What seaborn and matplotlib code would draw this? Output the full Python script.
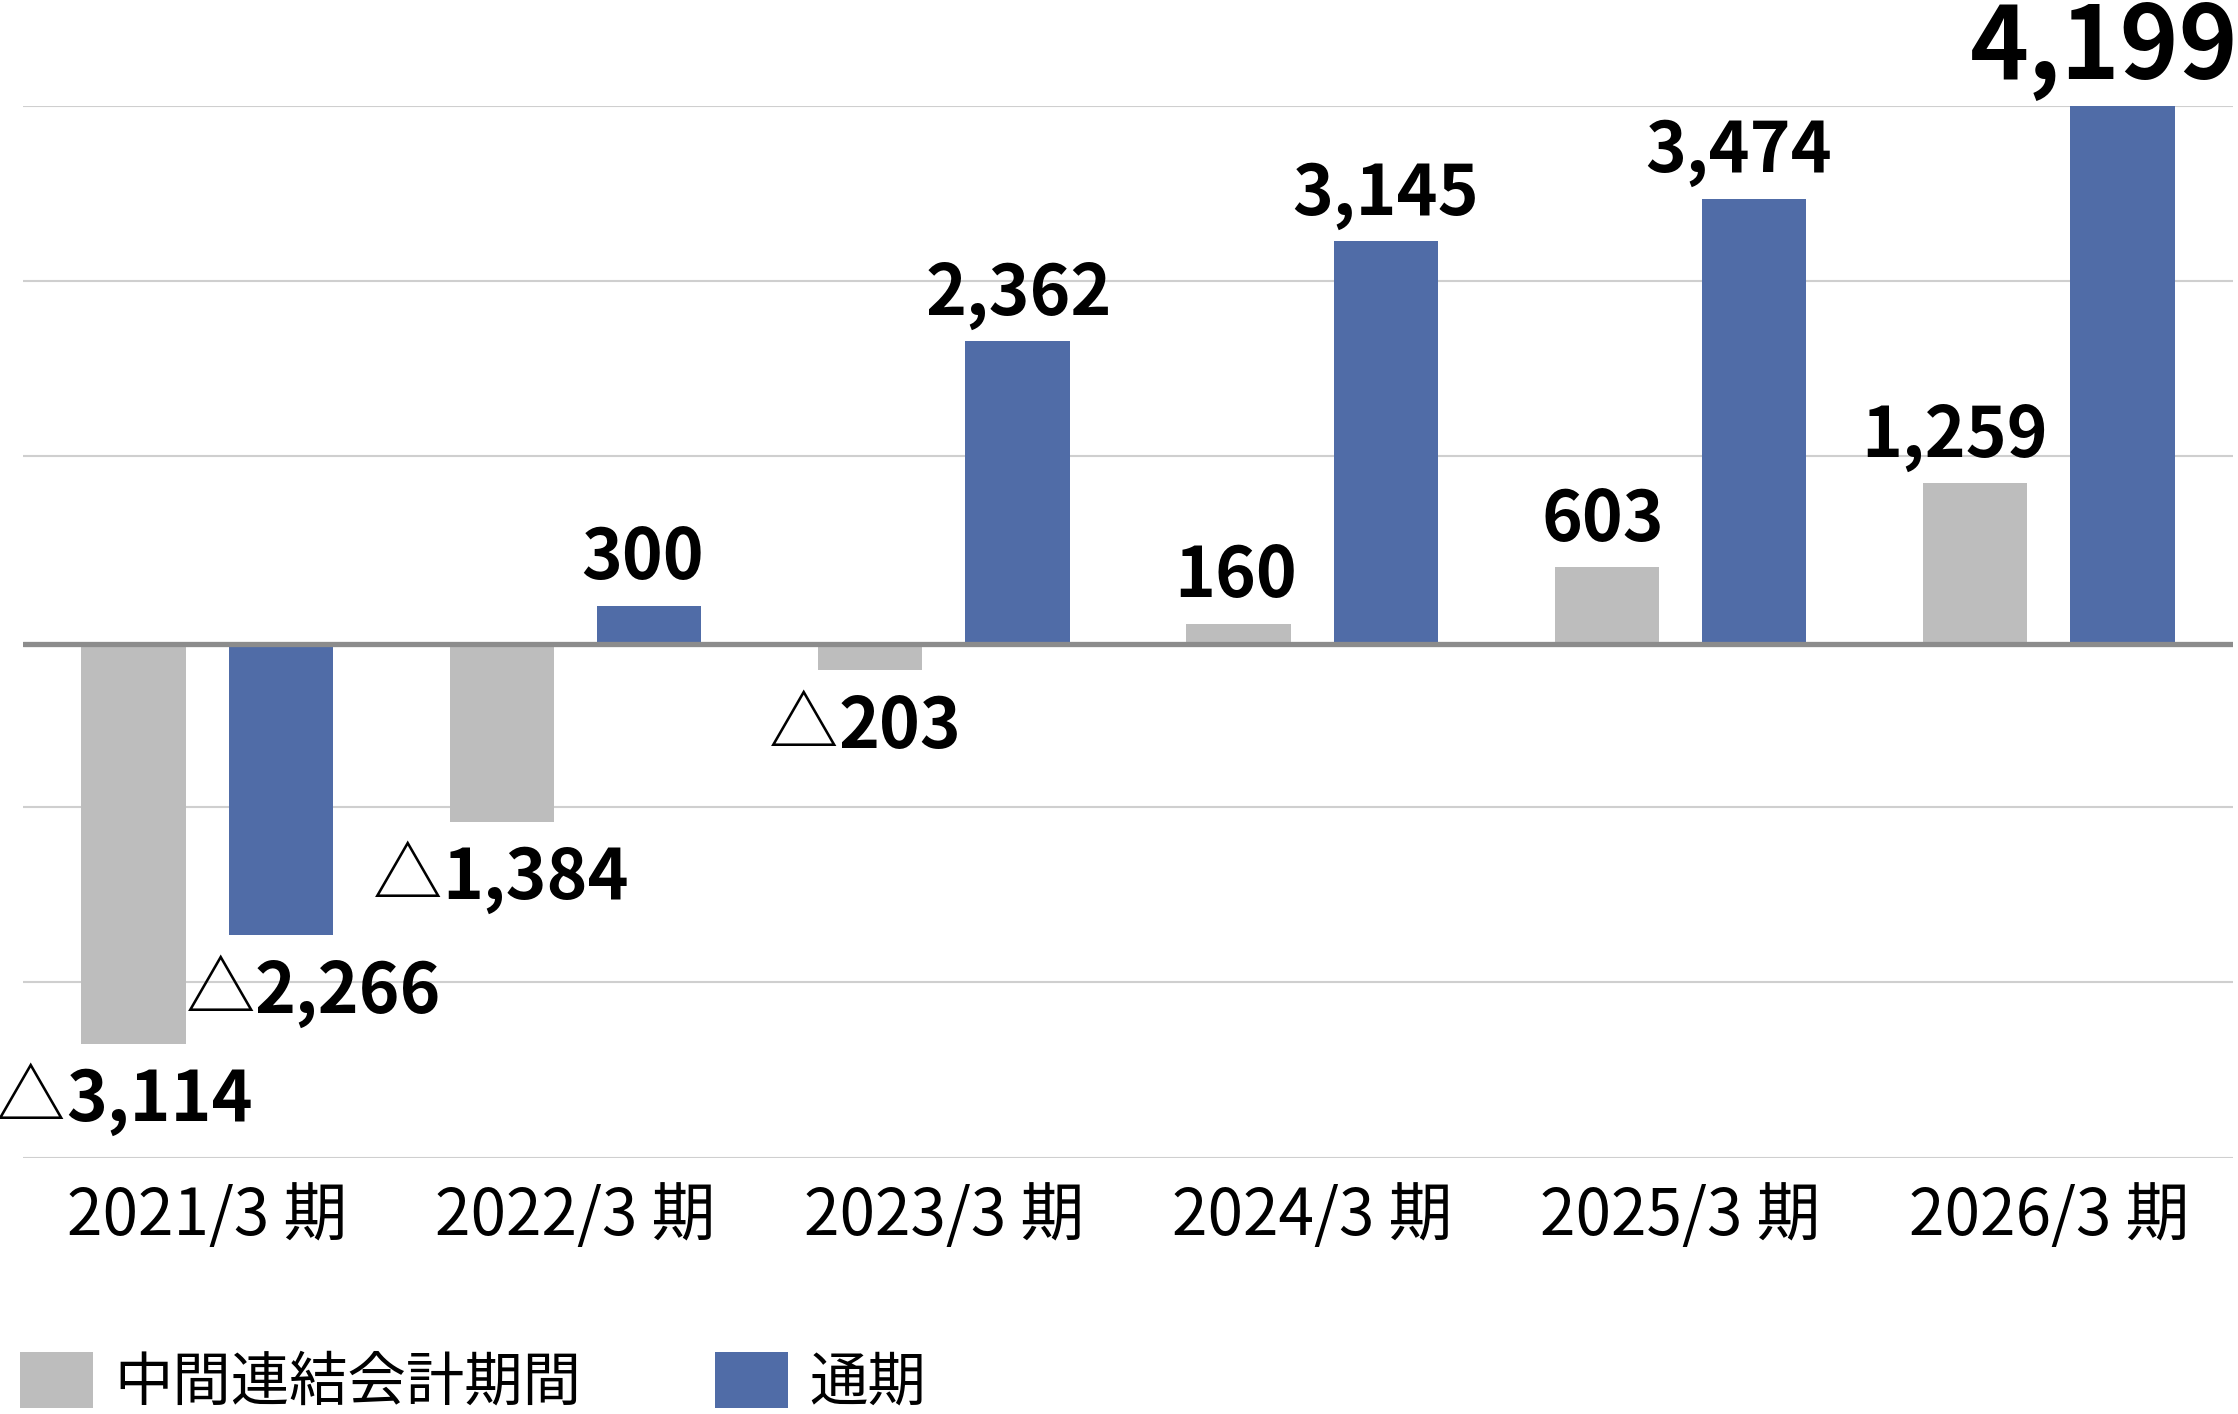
import numpy as np
import pandas as pd
import matplotlib
matplotlib.use("Agg")
import matplotlib.pyplot as plt
import seaborn as sns

# data (百万円)
periods = ["2021/3 期", "2022/3 期", "2023/3 期", "2024/3 期", "2025/3 期", "2026/3 期"]
interim = [-3114, -1384, -203, 160, 603, 1259]
full_year = [-2266, 300, 2362, 3145, 3474, 4199]
series_names = ["中間連結会計期間", "通期"]

# small horizontal nudges for the value labels (points)
interim_dx = [-4, 2, -1, -2, -3, -15]
full_dx = [26, -5, 1, 0, -11, -13]

gray = "#bdbdbd"
blue = "#506ca7"

df = pd.DataFrame({
    "period": periods * 2,
    "value": interim + full_year,
    "series": [series_names[0]] * len(periods) + [series_names[1]] * len(periods),
})

sns.set_style("white")
plt.rcParams["font.family"] = ["Noto Sans CJK JP", "DejaVu Sans"]
plt.rcParams["text.color"] = "black"
plt.rcParams["xtick.color"] = "black"

W, H = 2238, 1414
fig = plt.figure(figsize=(W / 100, H / 100), dpi=100)
ax = fig.add_axes([23 / W, 1 - 1157.5 / H, 2210 / W, (1157.5 - 105.6) / H])

sns.barplot(data=df, x="period", y="value", hue="series", order=periods,
            hue_order=series_names, palette=[gray, blue], width=0.8,
            dodge=True, saturation=1, legend=False, ax=ax, zorder=2)

# narrow the bars, keep their centres
bw = 0.283
for p in ax.patches:
    c = p.get_x() + p.get_width() / 2
    p.set_width(bw)
    p.set_x(c - bw / 2)
    p.set_edgecolor("none")

ymin, ymax = -4000, 4199
ax.set_ylim(ymin, ymax)
ax.set_xlim(-0.5, len(periods) - 0.5)
grid = np.linspace(ymin, ymax, 7)
ax.set_yticks([g for g in grid if abs(g) > 500])
ax.yaxis.grid(True, color="#cfcfcf", lw=1.5)
ax.xaxis.grid(False)
ax.set_axisbelow(True)
ax.axhline(0, color="#8c8c8c", lw=3.8, zorder=3)
for s in ax.spines.values():
    s.set_visible(False)
ax.tick_params(axis="y", left=False, labelleft=False)
ax.tick_params(axis="x", bottom=False, labelsize=46, pad=15, labelcolor="black")
ax.set_xlabel("")
ax.set_ylabel("")

# value labels
for cont, vals, dxs in zip(ax.containers, [interim, full_year], [interim_dx, full_dx]):
    for bar, v, dx in zip(cont, vals, dxs):
        x = bar.get_x() + bar.get_width() / 2
        fs = 72 if v == max(full_year) else 50
        if v >= 0:
            ax.annotate(f"{v:,}", (x, v), xytext=(dx, 19), textcoords="offset points",
                        ha="center", va="baseline", fontsize=fs, fontweight="bold",
                        color="black")
        else:
            num = ax.annotate(f"{-v:,}", (x, v), xytext=(dx + fs * 0.45, -19 - 0.733 * fs),
                              textcoords="offset points", ha="center", va="baseline",
                              fontsize=fs, fontweight="bold", color="black")
            ax.annotate("△", xy=(0, 0), xycoords=num, ha="right", va="bottom",
                        fontsize=fs, fontweight="normal", color="black")

handles = [ax.containers[0][0], ax.containers[1][0]]
fig.legend(handles, series_names, loc="lower left", bbox_to_anchor=(20 / W, 0),
           ncol=2, frameon=False, fontsize=42, handlelength=1.25, handleheight=1.1,
           handletextpad=0.36, columnspacing=2.3, borderpad=0, borderaxespad=0,
           labelcolor="black")

fig.savefig("out.png", dpi=100)
